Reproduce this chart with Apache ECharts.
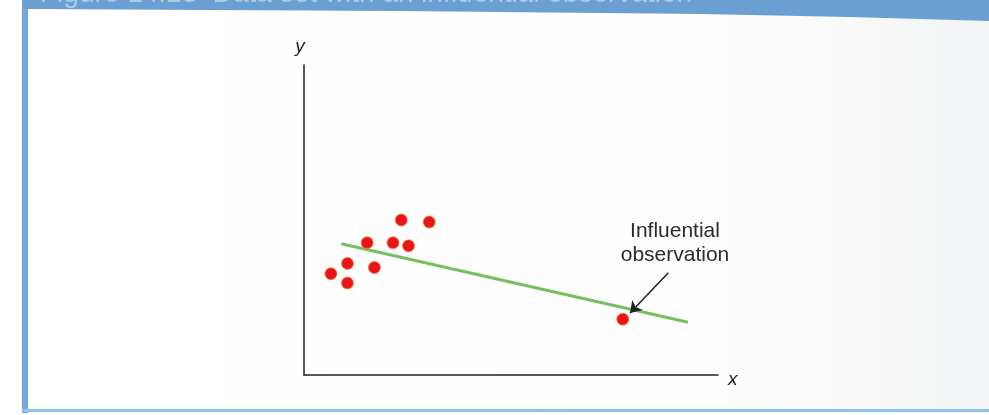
<!DOCTYPE html>
<html lang="en">
<head>
    <meta charset="UTF-8">
    <title>Influential observation</title>
    <script src="https://cdn.jsdelivr.net/npm/echarts@6/dist/echarts.min.js"></script>
    <style>
        *{
            margin:0;
            padding:0;
        }
        html,body{
            height:100%;
            width:100%;
            background:#fff;
            overflow:hidden;
        }
        #chart{
            width:989px;
            height:415px;
        }
    </style>
</head>
<body>
    <div id="chart"></div>
    <script>
        // points of the cluster (x, y)
        var clusterX=[1.3,2.1,2.1,3.05,3.4,4.3,5.05,4.7,6.05];
        var clusterY=[4.9,5.4,4.45,6.4,5.2,6.4,6.25,7.5,7.4];
        // the influential one
        var influential=[15.4,2.7];
        // fitted line end points
        var lineX=[1.8,18.55];
        var lineY=[6.35,2.55];
        // arrow from label to the point
        var arrowFrom=[17.6,4.95];
        var arrowTo=[15.75,3.0];
        var titleText="Figure 14.13  Data set with an influential observation";
        var noteText="Influential\nobservation";

        var pts=[];
        for(var i=0;i<clusterX.length;i++){
            pts.push([clusterX[i],clusterY[i]]);
        }
        pts.push(influential);

        var fit=[[lineX[0],lineY[0]],[lineX[1],lineY[1]]];

        var myCharts=echarts.init(document.getElementById("chart"));
        var option={
            animation:false,
            backgroundColor:'transparent',
            graphic:[
                {//inner panel, slightly grey on the right
                    type:'rect',z:-10,
                    shape:{x:22,y:0,width:967,height:413},
                    style:{fill:new echarts.graphic.LinearGradient(0,0,1,0,[
                        {offset:0,color:'#ffffff'},
                        {offset:0.7,color:'#fefefe'},
                        {offset:1,color:'#f3f4f5'}
                    ])}
                },
                {//left border
                    type:'rect',z:-5,
                    shape:{x:22,y:0,width:6,height:413},
                    style:{fill:'#72a8e0'}
                },
                {//bottom border
                    type:'rect',z:-5,
                    shape:{x:22,y:409,width:967,height:3},
                    style:{fill:'#8fc3ec'}
                },
                {//header band
                    type:'polygon',z:-4,
                    shape:{points:[[22,0],[989,0],[989,21],[850,17],[700,14],[400,11],[22,9]]},
                    style:{fill:'#6a9fd2'}
                },
                {
                    type:'text',z:-3,
                    x:40,y:8,
                    style:{text:titleText,fill:'rgba(255,255,255,0.45)',verticalAlign:'bottom',
                        font:'28px "Liberation Sans", Arial, sans-serif'}
                },
                {
                    type:'text',
                    x:675,y:219,
                    style:{text:noteText,fill:'#2b2b2b',align:'center',lineHeight:24,
                        font:'21px "Liberation Sans", Arial, sans-serif'}
                }
            ],
            grid:{
                left:304,
                top:65,
                width:414,
                height:310
            },
            xAxis:{
                type:'value',
                min:0,
                max:20,
                name:'x',
                nameLocation:'end',
                nameGap:10,
                nameTextStyle:{color:'#222',fontSize:19,fontStyle:'italic',fontFamily:'Liberation Sans',
                    verticalAlign:'top',lineHeight:10},
                axisLine:{lineStyle:{color:'#222',width:1.5}},
                axisTick:{show:false},
                axisLabel:{show:false},
                splitLine:{show:false}
            },
            yAxis:{
                type:'value',
                min:0,
                max:15,
                name:'y',
                nameLocation:'end',
                nameGap:9,
                nameTextStyle:{color:'#222',fontSize:19,fontStyle:'italic',fontFamily:'Liberation Sans',
                    align:'center',padding:[0,8,0,0]},
                axisLine:{show:true,lineStyle:{color:'#222',width:1.5}},
                axisTick:{show:false},
                axisLabel:{show:false},
                splitLine:{show:false}
            },
            series:[
                {
                    type:'line',
                    data:fit,
                    symbol:'none',
                    lineStyle:{color:'#74c060',width:3},
                    z:2,
                    markLine:{
                        silent:true,
                        symbol:['none','arrow'],
                        symbolSize:11,
                        label:{show:false},
                        lineStyle:{color:'#222',width:1.5,type:'solid'},
                        data:[[{coord:arrowFrom},{coord:arrowTo}]]
                    }
                },
                {
                    type:'scatter',
                    data:pts,
                    symbolSize:12,
                    itemStyle:{color:'#e8161b',borderColor:'#ff7a2a',borderWidth:0.8,opacity:1},
                    z:3
                }
            ]
        };
        myCharts.setOption(option);
        window.onresize=myCharts.resize;
    </script>
</body>
</html>
